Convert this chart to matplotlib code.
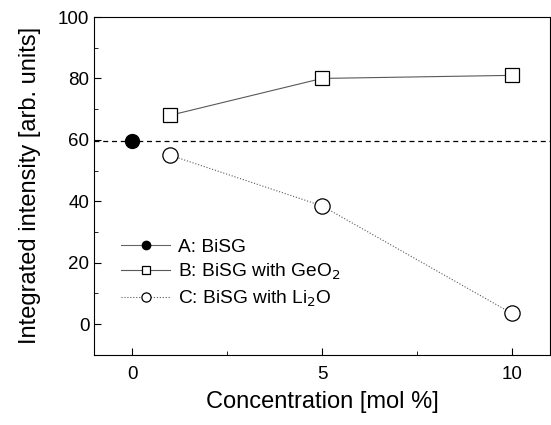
import matplotlib
matplotlib.use("Agg")
import matplotlib.pyplot as plt

plt.rcParams['font.family'] = ['Liberation Sans', 'DejaVu Sans']

# data
conc_a = [0]
int_a = [59.5]
conc_b = [1, 5, 10]
int_b = [68, 80, 81]
conc_c = [1, 5, 10]
int_c = [55, 38.5, 3.5]
ref_level = 59.5

fig = plt.figure(figsize=(5.51, 4.25), dpi=100)
ax = fig.add_axes([0.171, 0.165, 0.827, 0.795])

ax.axhline(ref_level, color='black', ls=(0, (4, 3)), lw=0.9, zorder=1)
ax.plot(conc_a, int_a, '-', color='0.4', lw=0.8, marker='o', ms=10,
        mfc='black', mec='black', label='A: BiSG', zorder=3)
ax.plot(conc_b, int_b, '-', color='0.35', lw=0.8, marker='s', ms=10,
        mfc='white', mec='black', mew=0.9, label='B: BiSG with GeO$_2$', zorder=3)
ax.plot(conc_c, int_c, ':', color='0.35', lw=0.8, marker='o', ms=11,
        mfc='white', mec='black', mew=0.9, label='C: BiSG with Li$_2$O', zorder=3)

ax.set_xlim(-1, 11)
ax.set_ylim(-10, 100)
ax.set_xticks([0, 5, 10])
ax.set_xticks([2.5, 7.5], minor=True)
ax.set_yticks([0, 20, 40, 60, 80, 100])
ax.set_yticks([-10, 10, 30, 50, 70, 90], minor=True)
ax.tick_params(direction='in', which='both', labelsize=13.5, top=False, right=False)
ax.tick_params(which='major', length=5)
ax.tick_params(which='minor', length=3)
ax.tick_params(axis='x', pad=8)

ax.set_xlabel('Concentration [mol %]', fontsize=17, labelpad=6)
ax.set_ylabel('Integrated intensity [arb. units]', fontsize=17, labelpad=12)

ax.legend(loc='lower left', bbox_to_anchor=(0.02, 0.085), frameon=False,
          fontsize=13.8, handlelength=2.6, markerscale=0.6, labelspacing=0.33,
          handletextpad=0.4)

fig.savefig('out.png', dpi=100)
